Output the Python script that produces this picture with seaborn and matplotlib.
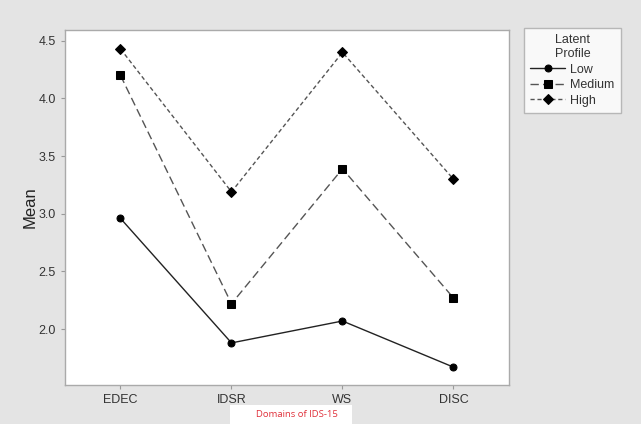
import matplotlib
matplotlib.use("Agg")
import matplotlib.pyplot as plt
from matplotlib.patches import Rectangle
import seaborn as sns
import pandas as pd

domains = ["EDEC", "IDSR", "WS", "DISC"]
profiles = ["Low", "Medium", "High"]
low = [2.96, 1.88, 2.07, 1.67]
medium = [4.20, 2.22, 3.39, 2.27]
high = [4.43, 3.19, 4.40, 3.30]
yticks = [2.0, 2.5, 3.0, 3.5, 4.0, 4.5]

rows = []
for prof, vals in zip(profiles, [low, medium, high]):
    for d, v in zip(domains, vals):
        rows.append({"Domain": d, "Mean": v, "Profile": prof})
df = pd.DataFrame(rows)

sns.set_style("white")
plt.rcParams["font.family"] = ["Liberation Sans", "DejaVu Sans"]

fig = plt.figure(figsize=(6.41, 4.24), dpi=100, facecolor="#e4e4e4")
ax = fig.add_axes([0.1014, 0.092, 0.6926, 0.837])
ax.set_facecolor("white")

markers = {"Low": "o", "Medium": "s", "High": "D"}
dashes = {"Low": "", "Medium": (6, 3), "High": (3, 2)}
colors = {"Low": "#222222", "Medium": "#555555", "High": "#555555"}
for prof in profiles:
    sub = df[df["Profile"] == prof]
    sns.lineplot(data=sub, x="Domain", y="Mean", ax=ax, color=colors[prof],
                 linewidth=1.0, label=prof, legend=False)
    line = ax.lines[-1]
    if dashes[prof]:
        line.set_dashes(dashes[prof])
    line.set_marker(markers[prof])
    line.set_markersize(5 if prof != "Medium" else 5.5)
    line.set_markerfacecolor("black")
    line.set_markeredgecolor("black")

ax.set_xlim(-0.5, 3.5)
ax.set_ylim(1.515, 4.593)
ax.set_yticks(yticks)
ax.set_yticklabels([f"{t:.1f}" for t in yticks])
ax.set_xlabel("")
ax.set_ylabel("Mean", fontsize=12, color="#222222")
ax.yaxis.set_label_coords(-0.062, 0.5)
ax.tick_params(axis="both", labelsize=9, length=3,
               width=0.8, direction="out", left=True, bottom=True)
ax.tick_params(axis="both", colors="#999999")
for lbl in ax.get_xticklabels() + ax.get_yticklabels():
    lbl.set_color("#333333")
for sp in ax.spines.values():
    sp.set_color("#aaaaaa")
    sp.set_linewidth(1.0)

handles, labels = ax.get_legend_handles_labels()
leg = fig.legend(handles, labels, title="Latent\nProfile",
                 loc="upper left", bbox_to_anchor=(524 / 641, 1 - 28 / 424),
                 frameon=True, fontsize=9, title_fontsize=9,
                 handlelength=2.8, handletextpad=0.4, borderpad=0.5,
                 labelspacing=0.28, borderaxespad=0.0,
                 fancybox=False, edgecolor="#aaaaaa")
leg.get_frame().set_linewidth(1.0)
leg._legend_box.align = "center"
leg.get_title().set_multialignment("left")
leg.get_title().set_color("#333333")
for t in leg.get_texts():
    t.set_color("#333333")

fig.patches.append(Rectangle((230 / 641, 0), 122 / 641, 19 / 424,
                             transform=fig.transFigure, facecolor="white",
                             edgecolor="none", zorder=5))
fig.text(297 / 641, 1 - 414.5 / 424, "Domains of IDS-15", ha="center",
         va="center", fontsize=6.8, color="#e0303a", family="Open Sans",
         zorder=6)

fig.savefig("out.png", dpi=100, facecolor=fig.get_facecolor())
